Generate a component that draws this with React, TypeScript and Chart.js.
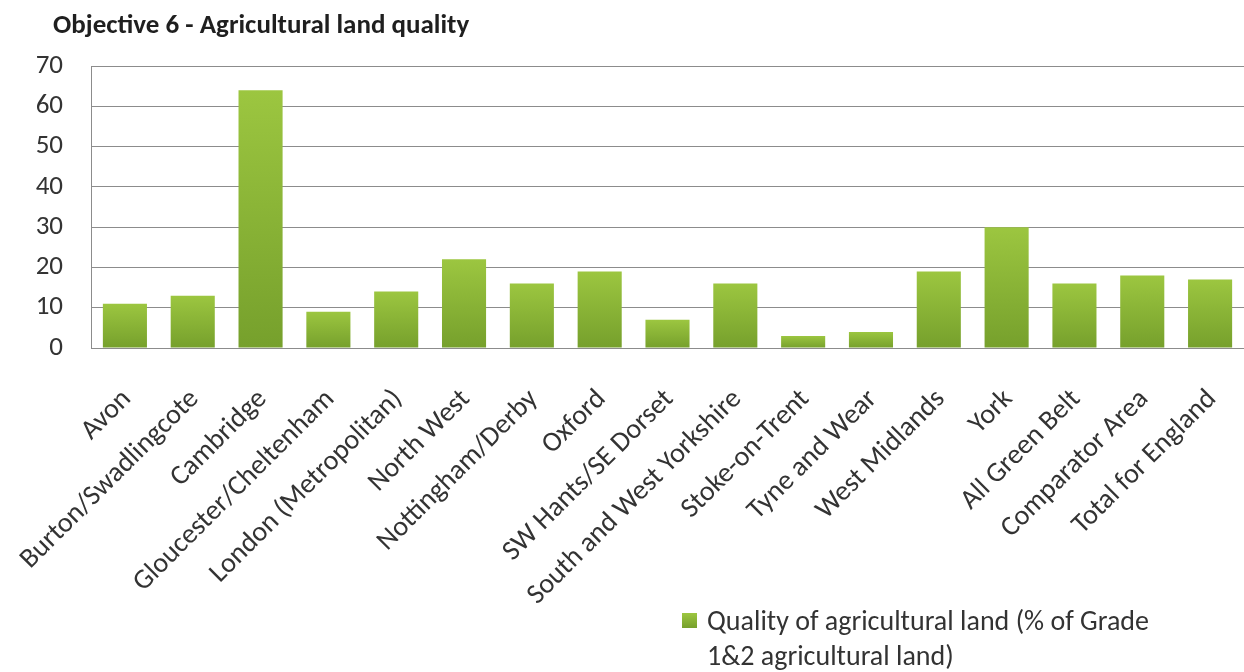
import React, { useEffect, useRef } from 'react';
import { Chart, registerables } from 'chart.js';

Chart.register(...registerables);

const chartTitle = 'Objective 6 - Agricultural land quality';
const categories = [
  'Avon',
  'Burton/Swadlingcote',
  'Cambridge',
  'Gloucester/Cheltenham',
  'London (Metropolitan)',
  'North West',
  'Nottingham/Derby',
  'Oxford',
  'SW Hants/SE Dorset',
  'South and West Yorkshire',
  'Stoke-on-Trent',
  'Tyne and Wear',
  'West Midlands',
  'York',
  'All Green Belt',
  'Comparator Area',
  'Total for England',
];
const qualityValues = [11, 13, 64, 9, 14, 22, 16, 19, 7, 16, 3, 4, 19, 30, 16, 18, 17];
const yTickLabels = [0, 10, 20, 30, 40, 50, 60, 70];
const legendLines = ['Quality of agricultural land (% of Grade', '1&2 agricultural land)'];

const FONT = 'Carlito, Lato, "Open Sans", sans-serif';
const TEXT = '#333333';
const GRID = '#8c8c8c';
const BAR_TOP = '#9cc640';
const BAR_BOTTOM = '#76a02c';

const overlayPlugin = {
  id: 'overlayText',
  afterDraw(chart: any) {
    const ctx = chart.ctx as CanvasRenderingContext2D;
    ctx.save();
    ctx.textAlign = 'left';
    ctx.textBaseline = 'alphabetic';
    ctx.fillStyle = '#1f1f1f';
    ctx.font = `bold 27px ${FONT}`;
    ctx.fillText(chartTitle, 53, 33);

    const g = ctx.createLinearGradient(0, 613, 0, 628);
    g.addColorStop(0, BAR_TOP);
    g.addColorStop(1, BAR_BOTTOM);
    ctx.fillStyle = g;
    ctx.fillRect(682, 613, 15, 15);
    ctx.fillStyle = TEXT;
    ctx.font = `28px ${FONT}`;
    ctx.fillText(legendLines[0], 707, 630);
    ctx.fillText(legendLines[1], 707, 665);
    ctx.restore();
  },
};

export default function App() {
  const canvasRef = useRef<HTMLCanvasElement | null>(null);

  useEffect(() => {
    document.body.style.margin = '0';
    const canvas = canvasRef.current;
    if (!canvas) return;
    const chart = new Chart(canvas, {
      type: 'bar',
      data: {
        labels: categories,
        datasets: [
          {
            label: legendLines.join(' '),
            data: qualityValues,
            backgroundColor: (c: any) => {
              const ch = c.chart;
              const area = ch.chartArea;
              const y = ch.scales && ch.scales.y;
              if (!area || !y || typeof c.raw !== 'number') return '#8ab53a';
              const top = y.getPixelForValue(c.raw);
              const bottom = y.getPixelForValue(0);
              const g = ch.ctx.createLinearGradient(0, top, 0, bottom);
              g.addColorStop(0, BAR_TOP);
              g.addColorStop(1, BAR_BOTTOM);
              return g;
            },
            borderWidth: 0,
            barPercentage: 0.65,
            categoryPercentage: 1,
          },
        ],
      },
      options: {
        animation: false,
        responsive: true,
        maintainAspectRatio: false,
        devicePixelRatio: 1,
        layout: { padding: { top: 66, left: 0, right: 0, bottom: 0 } },
        plugins: {
          legend: { display: false },
          title: { display: false },
          tooltip: { enabled: false },
        },
        scales: {
          x: {
            grid: { display: false, drawTicks: false },
            border: { display: true, color: GRID, width: 1 },
            ticks: {
              autoSkip: false,
              maxRotation: 45,
              minRotation: 45,
              padding: 35,
              labelOffset: 2,
              color: TEXT,
              font: { family: FONT, size: 28 },
            },
            afterFit: (scale: any) => {
              scale.height = 672 - 348;
              scale.paddingLeft = 0;
              scale.paddingRight = 0;
            },
          },
          y: {
            min: 0,
            max: 70,
            grid: { color: GRID, lineWidth: 1, drawTicks: false },
            border: { display: true, color: GRID, width: 1 },
            ticks: {
              stepSize: 5,
              padding: 28,
              color: TEXT,
              font: { family: FONT, size: 27 },
              callback: (v: any) => (yTickLabels.includes(Number(v)) ? String(v) : ''),
            },
            afterFit: (scale: any) => {
              scale.width = 91;
            },
          },
        },
      },
      plugins: [overlayPlugin],
    });
    return () => chart.destroy();
  }, []);

  return (
    <div style={{ position: 'relative', width: 1244, height: 672, background: '#ffffff' }}>
      <canvas ref={canvasRef} />
    </div>
  );
}
